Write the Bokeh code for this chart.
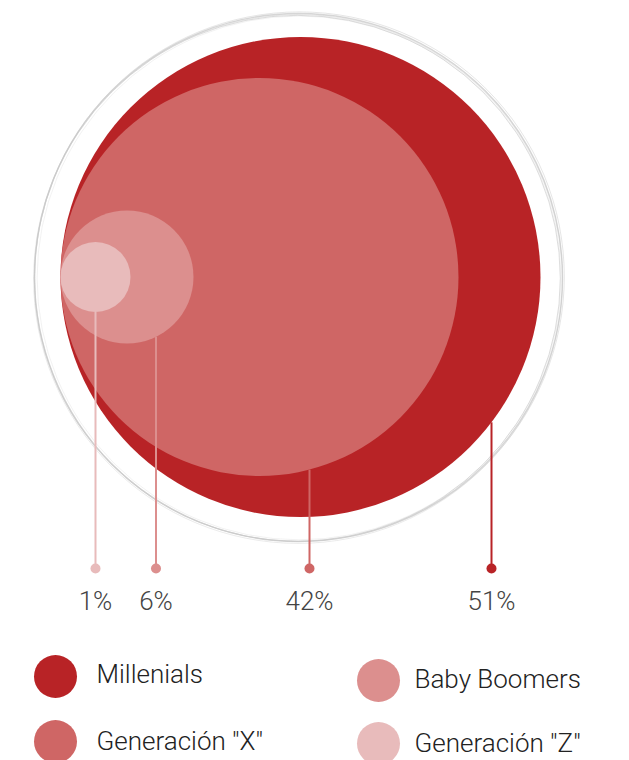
import math
from bokeh.plotting import figure
from bokeh.models import Range1d
from bokeh.core.properties import value
from bokeh.embed import file_html
from bokeh.resources import INLINE

# ---- data ----
categories = ["Millenials", 'Generación "X"', "Baby Boomers", 'Generación "Z"']
values = [51, 42, 6, 1]
colors = ["#B82326", "#CF6665", "#DC8F8E", "#E8BBBB"]

# ---- design / layout constants (pixels) ----
bubble_radius = [240, 199, 66.5, 35]      # drawn size of each bubble
left_edge = 60                            # all bubbles tangent on the left
center_y = 276.5
leader_offset = [191, 50, 29, 0]          # leader x relative to bubble centre
dot_y = 568
label_y = 600
legend_x = [55, 55, 378, 378]
legend_y = [676, 741, 680, 743]
legend_text_x = [96, 96, 414, 414]
legend_text_y = [673, 740, 678, 742.5]
FONT = value("'Roboto Light', Roboto")

W, H = 629, 760
p = figure(width=W, height=H, output_backend="svg", toolbar_location=None,
           x_range=Range1d(0, W), y_range=Range1d(H, 0),
           min_border=0, outline_line_color=None)
p.axis.visible = False
p.grid.visible = False
p.background_fill_color = "white"
p.border_fill_color = "white"

# sketchy outer ring
ring_cx, ring_cy, ring_r = 298, 277, 264
for dx, dy, dr, w, a in [(0, 0, 0, 1.4, 0.75), (-1.2, 0.8, -1.0, 1.0, 0.6),
                         (1.0, -0.8, 0.8, 0.9, 0.5), (-0.5, 1.5, 0.4, 0.8, 0.45),
                         (0.6, 0.4, -2.0, 0.7, 0.35)]:
    p.circle(x=[ring_cx + dx], y=[ring_cy + dy], radius=ring_r + dr,
             fill_color=None, line_color="#C8C8C8", line_width=w, line_alpha=a)

# bubbles
cx = [left_edge + r for r in bubble_radius]
p.circle(x=cx, y=[center_y] * 4, radius=bubble_radius,
         fill_color=colors, line_color=None)

# leaders
lx, y0 = [], []
for c, r, off in zip(cx, bubble_radius, leader_offset):
    x = c + off
    lx.append(x)
    y0.append(center_y + math.sqrt(max(r * r - off * off, 0)))
p.segment(x0=lx, y0=y0, x1=lx, y1=[dot_y] * 4, line_color=colors, line_width=2)
p.scatter(x=lx, y=[dot_y] * 4, size=10, fill_color=colors, line_color=None)

# percent labels
p.text(x=lx, y=[label_y] * 4, text=[f"{v}%" for v in values],
       text_font=FONT, text_font_size="26px", text_color="#444444",
       text_align="center", text_baseline="middle")

# legend
p.circle(x=legend_x, y=legend_y, radius=21.5, fill_color=colors, line_color=None)
p.text(x=legend_text_x, y=legend_text_y, text=categories,
       text_font=FONT, text_font_size="26px", text_color="#222222",
       text_align="left", text_baseline="middle")

open("out.html", "w").write(file_html(p, INLINE))
